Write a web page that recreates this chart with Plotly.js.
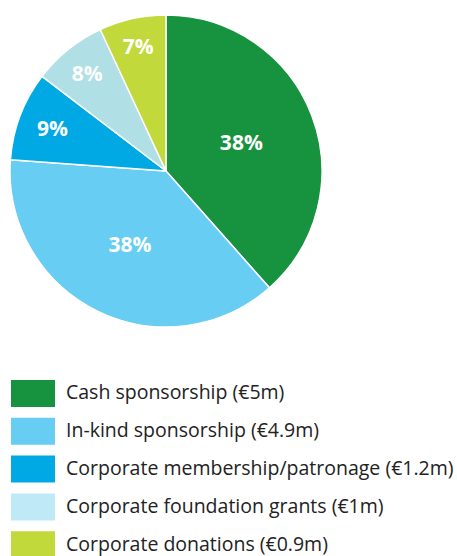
<!DOCTYPE html>
<html>
<head>
<meta charset="utf-8">
<script src="https://cdn.plot.ly/plotly-3.0.1.min.js"></script>
<style>html,body{margin:0;padding:0;background:#fff;}#chart{width:457px;height:556px;}</style>
</head>
<body>
<div id="chart"></div>
<script>
const categories = ["Cash sponsorship", "In-kind sponsorship", "Corporate membership/patronage", "Corporate foundation grants", "Corporate donations"];
const values = [5, 4.9, 1.2, 1, 0.9];
const valueLabels = ["€5m", "€4.9m", "€1.2m", "€1m", "€0.9m"];
const sliceColors = ["#17923e", "#68cdf2", "#00a9e4", "#b0dfe5", "#c1d93b"];
const legendColors = ["#17923e", "#68cdf2", "#00a9e4", "#c0e9f8", "#c1d93b"];

const W = 457, H = 556;
const pieLeft = 10, pieTop = 15, pieSize = 312;

const trace = {
  type: "pie",
  labels: categories,
  values: values,
  sort: false,
  direction: "clockwise",
  rotation: 0,
  marker: {colors: sliceColors, line: {color: "#ffffff", width: 1.5}},
  texttemplate: "%{percent:.0%}",
  textposition: "inside",
  insidetextorientation: "horizontal",
  textfont: {family: "Open Sans, sans-serif", size: 21, color: "#ffffff", weight: "bold"},
  hoverinfo: "none",
  showlegend: false,
  domain: {x: [pieLeft / W, (pieLeft + pieSize) / W], y: [1 - (pieTop + pieSize) / H, 1 - pieTop / H]}
};

const shapes = [], annotations = [];
const rowTop0 = 380, rowStep = 37.8, boxH = 27, boxL = 11, boxR = 55, textX = 65;
categories.forEach((c, i) => {
  const top = rowTop0 + i * rowStep;
  shapes.push({type: "rect", xref: "paper", yref: "paper",
    x0: boxL / W, x1: boxR / W, y0: 1 - (top + boxH) / H, y1: 1 - top / H,
    fillcolor: legendColors[i], line: {width: 0}});
  annotations.push({xref: "paper", yref: "paper", x: textX / W, y: 1 - (top + boxH / 2 - 1.5) / H,
    xanchor: "left", yanchor: "middle", showarrow: false, borderpad: 0,
    text: c + " (" + valueLabels[i] + ")",
    font: {family: "Open Sans, sans-serif", size: 19.5, color: "#222222"}});
});

Plotly.newPlot("chart", [trace], {
  width: W, height: H,
  margin: {l: 0, r: 0, t: 0, b: 0},
  paper_bgcolor: "#ffffff",
  shapes: shapes,
  annotations: annotations
}, {staticPlot: true});
</script>
</body>
</html>
